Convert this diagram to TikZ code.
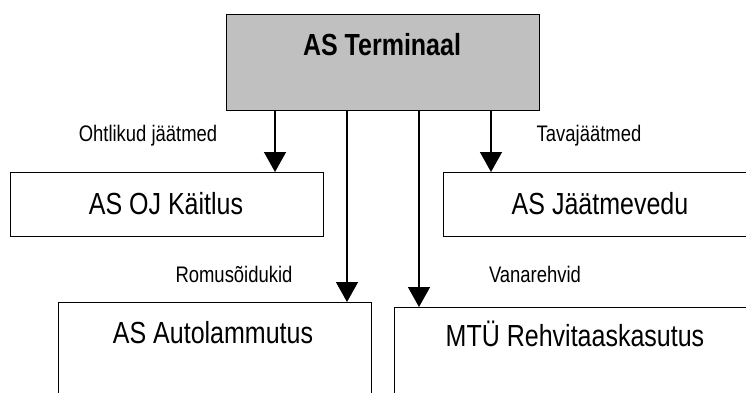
\documentclass[tikz,border=0pt]{standalone}
\usepackage{fontspec}
\setmainfont[FakeStretch=0.82]{Liberation Sans}
\usetikzlibrary{arrows.meta}
\definecolor{boxgray}{HTML}{C0C0C0}
\tikzset{
  orgbox/.style={draw=black, line width=1.4pt, anchor=north west, inner sep=0pt},
  bigtext/.style={anchor=base, inner sep=0pt, font=\fontsize{30.5}{34}\selectfont},
  flowlabel/.style={anchor=base, inner sep=0pt, font=\fontsize{22.5}{26}\selectfont},
  flowarrow/.style={line width=1.4pt, -{Triangle[length=20pt,width=22pt]}}
}
\begin{document}
\begin{tikzpicture}[x=1pt,y=-1pt]
  \useasboundingbox (0,0) rectangle (746,392);
  \clip (0,0) rectangle (746,392);

  % organisation boxes (the right and lower ones run past the edge)
  \node[orgbox, fill=boxgray, minimum width=313pt, minimum height=96pt] (term) at (226,14) {};
  \node[orgbox, minimum width=313pt, minimum height=64pt] (oj) at (10,172) {};
  \node[orgbox, minimum width=320pt, minimum height=64pt] (jv) at (443,172) {};
  \node[orgbox, minimum width=313pt, minimum height=110pt] (auto) at (58,302) {};
  \node[orgbox, minimum width=370pt, minimum height=110pt] (rehv) at (394,307) {};

  % box titles
  \node[bigtext, font=\fontsize{30.5}{34}\selectfont\bfseries] (termtxt) at (382,55) {AS Terminaal};
  \node[bigtext] (ojtxt) at (166,214) {AS OJ Käitlus};
  \node[bigtext] (jvtxt) at (600,214) {AS Jäätmevedu};
  \node[bigtext] (autotxt) at (213,343) {AS Autolammutus};
  \node[bigtext] (rehvtxt) at (575,346) {MTÜ Rehvitaaskasutus};

  % waste stream labels
  \node[flowlabel] (l1) at (148,141) {Ohtlikud jäätmed};
  \node[flowlabel] (l2) at (589,141) {Tavajäätmed};
  \node[flowlabel] (l3) at (234,282) {Romusõidukid};
  \node[flowlabel] (l4) at (535,282) {Vanarehvid};

  % arrow columns
  \coordinate (c1) at (275,0);
  \coordinate (c2) at (347,0);
  \coordinate (c3) at (419,0);
  \coordinate (c4) at (491,0);

  \draw[flowarrow] (c1 |- term.south) -- (c1 |- oj.north);
  \draw[flowarrow] (c4 |- term.south) -- (c4 |- jv.north);
  \draw[flowarrow] (c2 |- term.south) -- (c2 |- auto.north);
  \draw[flowarrow] (c3 |- term.south) -- (c3 |- rehv.north);
\end{tikzpicture}
\end{document}
